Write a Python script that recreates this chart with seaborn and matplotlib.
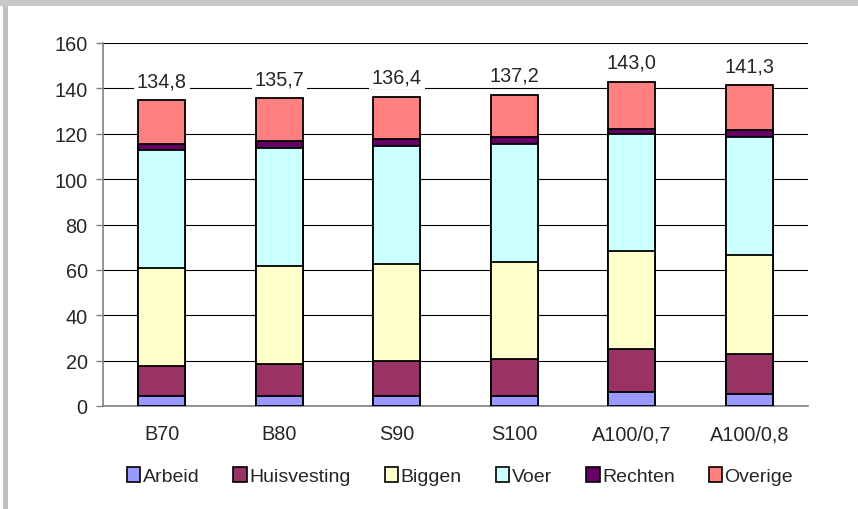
import matplotlib
matplotlib.use("Agg")
import matplotlib.pyplot as plt
from matplotlib.patches import Patch, Rectangle
import seaborn as sns
import pandas as pd
import numpy as np

scenarios = ["B70", "B80", "S90", "S100", "A100/0,7", "A100/0,8"]
totals = [134.8, 135.7, 136.4, 137.2, 143.0, 141.3]
totals_labels = ["134,8", "135,7", "136,4", "137,2", "143,0", "141,3"]

arbeid = [4.4, 4.4, 4.4, 4.4, 6.2, 5.2]
huisvesting = [13.1, 14.0, 15.3, 16.2, 18.8, 17.7]
biggen = [43.5, 43.5, 43.1, 42.8, 43.1, 43.7]
voer = [51.9, 51.9, 51.9, 52.0, 51.9, 51.8]
rechten = [2.8, 3.1, 3.1, 3.0, 2.2, 3.2]
overige = [round(t - a - h - b - v - r, 1) for t, a, h, b, v, r in
           zip(totals, arbeid, huisvesting, biggen, voer, rechten)]

components = ["Arbeid", "Huisvesting", "Biggen", "Voer", "Rechten", "Overige"]
colors = ["#9999FF", "#993366", "#FFFFCC", "#CCFFFF", "#660066", "#FF8080"]

df = pd.DataFrame({
    "scenario": scenarios,
    "Arbeid": arbeid,
    "Huisvesting": huisvesting,
    "Biggen": biggen,
    "Voer": voer,
    "Rechten": rechten,
    "Overige": overige,
})
cum = df[components].cumsum(axis=1)
cum["scenario"] = scenarios

sns.set_style("white")
plt.rcParams["font.family"] = ["Liberation Sans", "DejaVu Sans"]

fig = plt.figure(figsize=(8.58, 5.1), dpi=100)
ax = fig.add_axes([103 / 858, 1 - 407 / 510, 705 / 858, 363 / 510])

# stacked bars: draw cumulative heights from top segment down
for comp, col in reversed(list(zip(components, colors))):
    sns.barplot(data=cum, x="scenario", y=comp, color=col, width=0.4,
                edgecolor="black", linewidth=1.3, saturation=1, ax=ax,
                order=scenarios, zorder=3)

for i, (t, lab) in enumerate(zip(totals, totals_labels)):
    ax.text(i, t + 8.6, lab, ha="center", va="center", fontsize=14.3,
            bbox=dict(facecolor="white", edgecolor="none", pad=2), zorder=4)

ax.set_ylim(0, 160)
ax.set_xlim(-0.5, 5.5)
ax.set_yticks(np.arange(0, 161, 20))
ax.yaxis.grid(True, color="black", linewidth=0.8)
ax.set_axisbelow(True)
ax.set_xlabel("")
ax.set_ylabel("")

ax.tick_params(axis="x", which="major", length=0, pad=13, labelsize=14.3)
ax.set_xticks(np.arange(-0.5, 6, 1), minor=True)
ax.tick_params(axis="x", which="minor", length=5, color="#808080", width=1)
ax.tick_params(axis="y", length=5, color="#808080", width=1, pad=6, labelsize=14.3,
               left=True)

for s in ["top", "right"]:
    ax.spines[s].set_visible(False)
for s in ["left", "bottom"]:
    ax.spines[s].set_color("#808080")
    ax.spines[s].set_linewidth(1.2)

handles = [Patch(facecolor=c, edgecolor="black", linewidth=1.2) for c in colors]
fig.legend(handles, components, loc="center", bbox_to_anchor=(0.536, 0.064),
           ncol=6, frameon=False, fontsize=14, handlelength=0.7, handleheight=0.8,
           handletextpad=0.12, columnspacing=1.75)

# gray frame strips
fig.patches.append(Rectangle((3 / 858, 0), 5 / 858, 1, transform=fig.transFigure,
                             facecolor="#c0c0c0", edgecolor="none"))
fig.patches.append(Rectangle((0, 1 - 7 / 510), 1, 7 / 510, transform=fig.transFigure,
                             facecolor="#c8c8c8", edgecolor="none"))

fig.savefig("out.png", dpi=100)
